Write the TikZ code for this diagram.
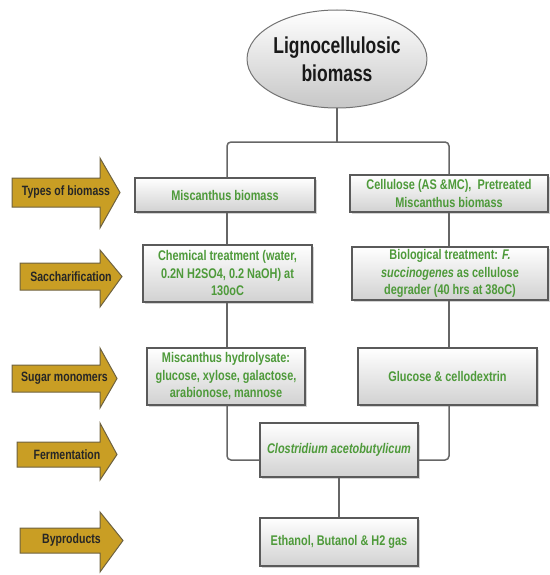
\documentclass[tikz,border=0pt]{standalone}
\usepackage{fontspec}
\setmainfont{Liberation Sans}
\newfontfamily\nar[FakeStretch=0.78]{Liberation Sans}
\newfontfamily\narE[FakeStretch=0.76]{Liberation Sans}
\usetikzlibrary{shadows,shapes.geometric}
\definecolor{txtgreen}{HTML}{4E9A3A}
\definecolor{arrfill}{RGB}{201,158,36}
\definecolor{arredge}{RGB}{110,98,64}
\definecolor{linegray}{HTML}{666666}
\definecolor{boxedge}{HTML}{5A5A5A}
\tikzset{
 box/.style={draw=boxedge, line width=1.3pt, top color=white, bottom color=black!18,
   drop shadow={shadow xshift=1.5pt,shadow yshift=-1.5pt,opacity=0.35},
   inner sep=0pt, align=center, font=\nar\bfseries\fontsize{14}{17.5}\selectfont, text=txtgreen},
 conn/.style={draw=linegray, line width=1.5pt, rounded corners=4pt},
 arr/.style={fill=arrfill, draw=arredge, line width=1pt},
 arrtext/.style={font=\nar\bfseries\fontsize{13.5}{15}\selectfont, text=black!85, inner sep=0pt}
}
\newcommand\larrow[9]{%
 \draw[arr] (#2,#5) -- (#3,#5) -- (#3,#7) -- (#4,{(#5+#6)/2}) -- (#3,#8) -- (#3,#6) -- (#2,#6) -- cycle;
 \node[arrtext] (#1) at ({(#2+#4)/2},{(#5+#6)/2}) {#9};}
\begin{document}
\begin{tikzpicture}[x=1pt,y=-1pt]
\useasboundingbox (0,0) rectangle (549,575);
% top ellipse
\node[ellipse, minimum width=156pt, minimum height=98pt, draw=boxedge!85, line width=1pt,
  top color=white, bottom color=black!22, inner sep=0pt, align=center,
  font=\narE\bfseries\fontsize{23}{28}\selectfont, text=black!90] (top) at (337,59) {Lignocellulosic\\biomass};
% boxes
\node[box, minimum width=180pt, minimum height=34pt] (b1l) at (225,195) {Miscanthus biomass};
\node[box, minimum width=198pt, minimum height=37pt] (b1r) at (449,193.5) {Cellulose (AS \&MC),\ \ Pretreated\\Miscanthus biomass};
\node[box, minimum width=169pt, minimum height=57pt] (b2l) at (227.5,273.5) {Chemical treatment (water,\\0.2N H2SO4, 0.2 NaOH) at\\130oC};
\node[box, minimum width=196pt, minimum height=53pt] (b2r) at (450,273.5) {Biological treatment: \textit{F.}\\\textit{succinogenes} as cellulose\\degrader (40 hrs at 38oC)};
\node[box, minimum width=158pt, minimum height=57pt] (b3l) at (226,376.5) {Miscanthus hydrolysate:\\glucose, xylose, galactose,\\arabionose, mannose};
\node[box, minimum width=179pt, minimum height=57pt] (b3r) at (447.5,376.5) {Glucose \& cellodextrin};
\node[box, minimum width=158pt, minimum height=54pt] (b4) at (339,450) {\textit{Clostridium acetobutylicum}};
\node[box, minimum width=158pt, minimum height=48pt] (b5) at (339,542) {Ethanol, Butanol \& H2 gas};
% connectors
\coordinate (hub) at (337,142);
\coordinate (xl) at (227,142);
\coordinate (xr) at (449,142);
\coordinate (jl) at (227,460);
\coordinate (jr) at (449,460);
\draw[conn] (top.south) -- (hub);
\draw[conn] (b1l.north -| xl) -- (xl) -- (xr) -- (b1r.north -| xr);
\draw[conn] (b1l.south -| xl) -- (b2l.north -| xl);
\draw[conn] (b2l.south -| xl) -- (b3l.north -| xl);
\draw[conn] (b1r.south -| xr) -- (b2r.north -| xr);
\draw[conn] (b2r.south -| xr) -- (b3r.north -| xr);
\draw[conn] (b3l.south -| xl) -- (jl) -- (b4.west |- jl);
\draw[conn] (b3r.south -| xr) -- (jr) -- (b4.east |- jr);
\draw[conn] (b4.south) -- (b5.north);
% left arrows
\larrow{a1}{12}{100}{120}{178}{207}{158}{228}{Types of biomass}
\larrow{a2}{20}{100}{122}{263}{290}{250}{307}{Saccharification}
\larrow{a3}{12}{100}{117}{365}{392}{348}{408}{Sugar monomers}
\larrow{a4}{17}{100}{117}{442}{467}{423}{480}{Fermentation}
\larrow{a5}{20}{100}{123}{528}{553}{512}{572}{Byproducts}
\end{tikzpicture}
\end{document}
